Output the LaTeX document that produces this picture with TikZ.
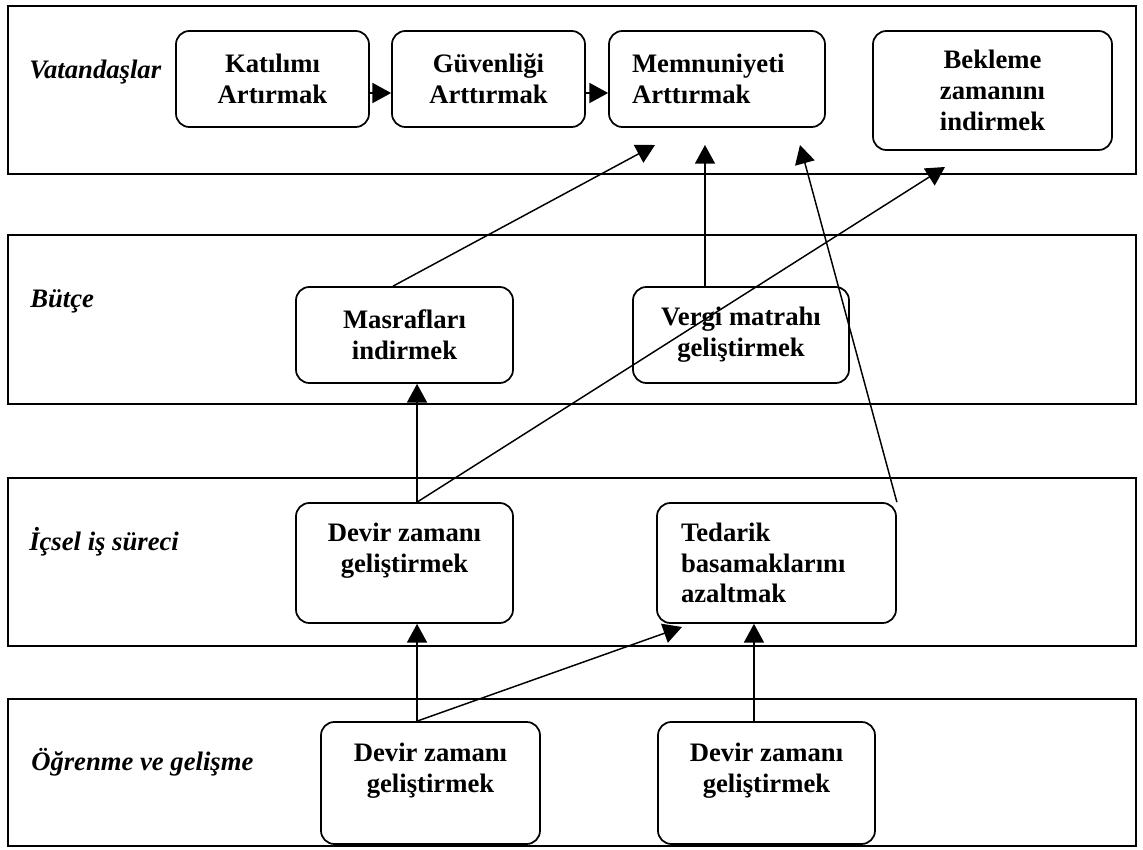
\documentclass[tikz,border=0pt]{standalone}
\usepackage{fontspec}
\setmainfont{Liberation Serif}
\usetikzlibrary{arrows.meta}
\begin{document}
\begin{tikzpicture}[x=0.75pt,y=-0.75pt,
  lane/.style={draw,line width=1.4pt},
  lanelabel/.style={anchor=base west,inner sep=0pt,font=\bfseries\itshape\fontsize{20}{23}\selectfont},
  goal/.style={draw,line width=1.3pt,rounded corners=10pt,inner sep=0pt,align=center,
    font=\bfseries\fontsize{20}{23}\selectfont},
  goalleft/.style={goal,align=left},
  conn/.style={line width=1.1pt,-{Triangle[length=14pt,width=15pt]}}]
\useasboundingbox (0,0) rectangle (1143,850);

% perspective lanes
\draw[lane] (8,6) rectangle (1136,174);
\draw[lane] (8,235) rectangle (1136,404);
\draw[lane] (8,478) rectangle (1136,646);
\draw[lane] (8,699) rectangle (1136,846);

\node[lanelabel] (lv) at (29,78) {Vatandaşlar};
\node[lanelabel] (lb) at (30,307) {Bütçe};
\node[lanelabel] (li) at (29,550) {İçsel iş süreci};
\node[lanelabel] (lo) at (31,770) {Öğrenme ve gelişme};

% citizens
\node[goal,minimum width=144.75pt,minimum height=72pt] (kat) at (272.5,79) {Katılımı\\Artırmak};
\node[goal,minimum width=144.75pt,minimum height=72pt] (guv) at (488.5,79) {Güvenliği\\Arttırmak};
\node[goalleft,text width=127.5pt,inner xsep=17.25pt,minimum height=72pt] (mem) at (717,79) {Memnuniyeti\\Arttırmak};
\node[goal,minimum width=179.25pt,minimum height=89.25pt] (bek) at (992.5,90.5) {Bekleme\\zamanını\\indirmek};

% budget
\node[goal,minimum width=162.75pt,minimum height=72pt] (mas) at (404.5,335) {Masrafları\\indirmek};
\node[goal,minimum width=162pt,minimum height=72pt] (ver) at (741,335) {Vergi matrahı\\geliştirmek};

% internal process
\node[goal,minimum width=162.75pt,minimum height=90pt] (dev1) at (404.5,563) {Devir zamanı\\geliştirmek\\\mbox{}};
\node[goalleft,text width=143.25pt,inner xsep=18pt,minimum height=90pt] (ted) at (776.5,563) {Tedarik\\basamaklarını\\azaltmak};

% learning and growth
\node[goal,minimum width=164.25pt,minimum height=91.5pt] (dev2) at (430.5,783) {Devir zamanı\\geliştirmek\\\mbox{}};
\node[goal,minimum width=162.75pt,minimum height=91.5pt] (dev3) at (766.5,783) {Devir zamanı\\geliştirmek\\\mbox{}};

% free arrow ends below the citizen goals
\coordinate (t1) at (655,145);
\coordinate (t2) at (705,145);
\coordinate (t3) at (800,145);
\coordinate (t4) at (945,167);
\coordinate (t5) at (682,627);

% connectors
\draw[conn] ([yshift=-10.5pt]kat.east) -- ([yshift=-10.5pt]guv.west);
\draw[conn] ([yshift=-10.5pt]guv.east) -- ([yshift=-10.5pt]mem.west);
\draw[conn] ([xshift=-8.6pt]mas.north) -- (t1);
\draw[conn] ([xshift=-27pt]ver.north) -- (t2);
\draw[conn] (ted.north east) -- (t3);
\draw[conn] ([xshift=9.4pt]dev1.north) -- (t4);
\draw[conn] ([xshift=9.4pt]dev1.north) -- ([xshift=9.4pt]mas.south);
\draw[conn] ([xshift=-10.1pt]dev2.north) -- ([xshift=9.4pt]dev1.south);
\draw[conn] ([xshift=-10.1pt]dev2.north) -- (t5);
\draw[conn] ([xshift=-9.4pt]dev3.north) -- ([xshift=-16.9pt]ted.south);
\end{tikzpicture}
\end{document}
